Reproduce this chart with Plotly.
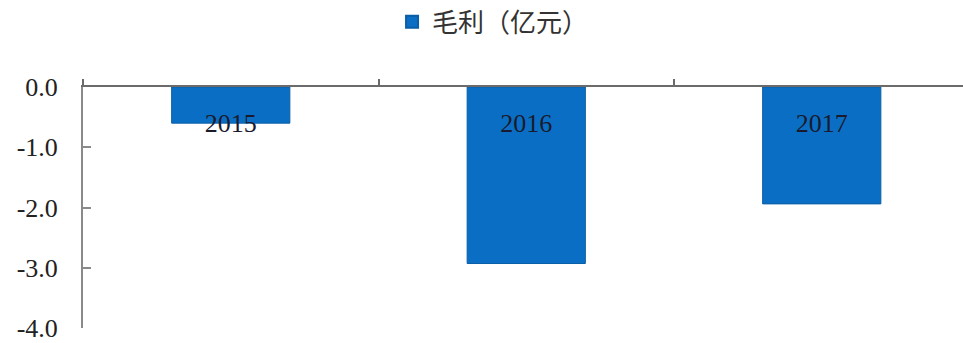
import plotly.graph_objects as go

# Gross profit by year (100 million CNY)
years = ["2015", "2016", "2017"]
gross_profit = [-0.6, -2.93, -1.94]
series_name = "毛利（亿元）"
y_ticks = [0.0, -1.0, -2.0, -3.0, -4.0]
y_tick_text = ["0.0", "-1.0", "-2.0", "-3.0", "-4.0"]

bar_color = "#0A6FC4"
serif = "Liberation Serif, Times New Roman, serif"

fig = go.Figure()
fig.add_trace(go.Bar(
    x=years,
    y=gross_profit,
    name=series_name,
    marker=dict(color=bar_color, line=dict(color="#0A5EA6", width=1)),
    width=0.4,
    showlegend=True,
))

fig.update_layout(
    width=963,
    height=343,
    margin=dict(l=83, r=0, t=87, b=13),
    paper_bgcolor="white",
    plot_bgcolor="white",
    showlegend=True,
    legend=dict(
        orientation="h",
        xref="container", yref="container",
        x=0.512, y=0.936,
        xanchor="center", yanchor="middle",
        font=dict(family="Noto Sans CJK SC", size=26, color="#333333"),
        itemsizing="constant",
    ),
    xaxis=dict(
        type="category",
        side="top",
        range=[-0.5, 2.478],
        showline=True,
        linecolor="#6b6b6b",
        linewidth=2,
        ticks="outside",
        tickson="boundaries",
        ticklen=6,
        tickcolor="#6b6b6b",
        tickwidth=2,
        ticklabelposition="inside",
        ticklabelstandoff=29,
        ticklabeloverflow="allow",
        tickfont=dict(family=serif, size=26, color="#1a1a2e"),
        showgrid=False,
        zeroline=False,
    ),
    yaxis=dict(
        range=[-4.0, 0.0],
        tickvals=y_ticks,
        ticktext=y_tick_text,
        showline=True,
        linecolor="#8a8a8a",
        linewidth=2,
        ticks="inside",
        ticklen=8,
        tickcolor="#8a8a8a",
        tickwidth=2,
        ticklabelstandoff=18,
        ticklabeloverflow="allow",
        tickfont=dict(family=serif, size=26, color="#222222"),
        showgrid=False,
        zeroline=False,
    ),
)

fig.write_html("out.html")
